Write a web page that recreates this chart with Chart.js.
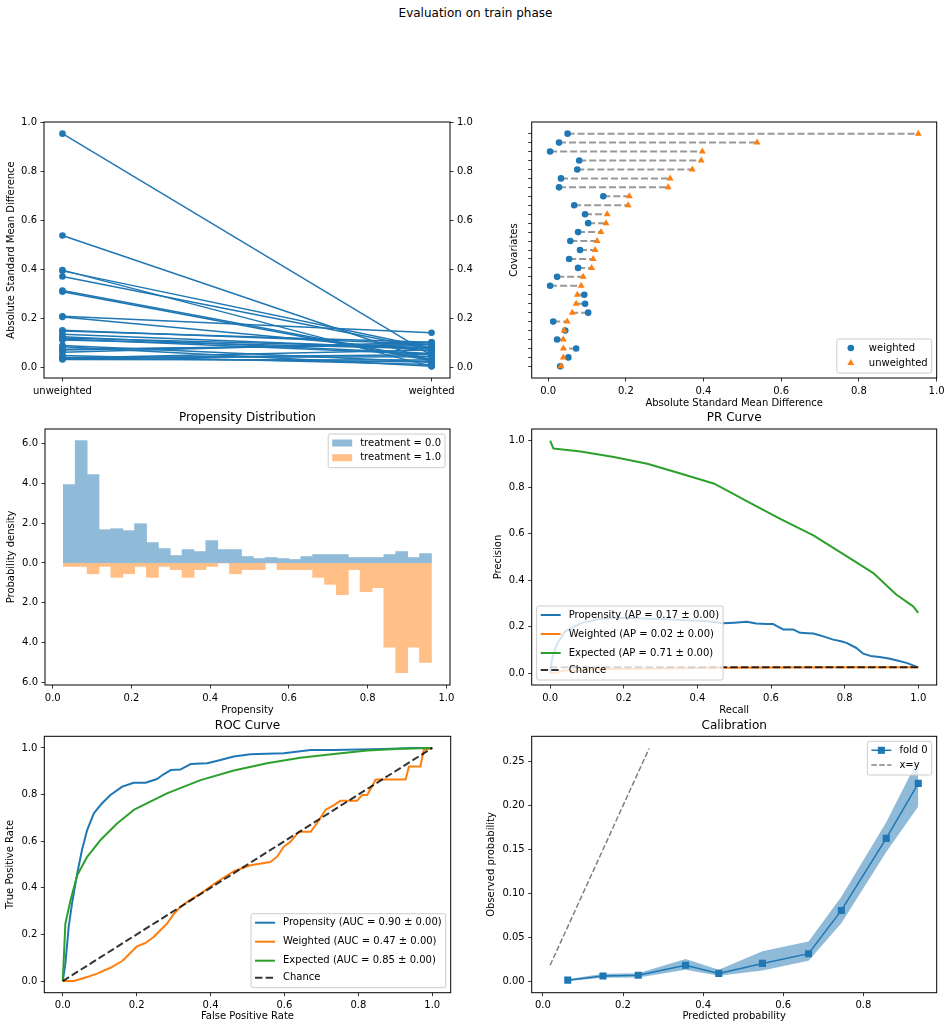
<!DOCTYPE html>
<html>
<head>
<meta charset="utf-8">
<title>Evaluation on train phase</title>
<script src="https://cdn.jsdelivr.net/npm/chart.js@4.4.1/dist/chart.umd.min.js"></script>
<style>
  body { margin: 0; background: #fff; }
  #fig { position: relative; width: 951px; height: 1030px; background: #fff; font-family: "DejaVu Sans", sans-serif; }
  #fig canvas { position: absolute; }
  #suptitle { position: absolute; left: 0; top: 5px; width: 951px; text-align: center; font-size: 12px; line-height: 16px; color: #000; }
</style>
</head>
<body>
<div id="fig">
  <div id="suptitle">Evaluation on train phase</div>
  <canvas id="smdLines" width="480" height="300" style="left:0;top:110px"></canvas>
  <canvas id="smdDots" width="471" height="300" style="left:480px;top:110px"></canvas>
  <canvas id="propHist" width="480" height="320" style="left:0;top:400px"></canvas>
  <canvas id="prCurve" width="471" height="320" style="left:480px;top:400px"></canvas>
  <canvas id="rocCurve" width="480" height="325" style="left:0;top:705px"></canvas>
  <canvas id="calCurve" width="471" height="325" style="left:480px;top:705px"></canvas>
</div>
<script>
// ---- data ----
const smdGroups = ["unweighted", "weighted"];
// covariates, top row first
const covUnweighted = [0.953, 0.538, 0.397, 0.394, 0.371, 0.314, 0.309, 0.209, 0.206, 0.152, 0.149, 0.136, 0.126, 0.121,
  0.116, 0.112, 0.090, 0.085, 0.075, 0.072, 0.062, 0.049, 0.041, 0.039, 0.039, 0.039, 0.033];
const covWeighted = [0.050, 0.028, 0.005, 0.080, 0.075, 0.033, 0.028, 0.142, 0.067, 0.095, 0.103, 0.077, 0.057, 0.082,
  0.054, 0.077, 0.023, 0.005, 0.093, 0.095, 0.103, 0.013, 0.044, 0.023, 0.072, 0.052, 0.031];

const histBinCenters = [0.0422, 0.0723, 0.1025, 0.1326, 0.1628, 0.1929, 0.2231, 0.2532, 0.2834, 0.3135, 0.3437,
  0.3738, 0.4040, 0.4341, 0.4643, 0.4944, 0.5246, 0.5547, 0.5849, 0.6150, 0.6452, 0.6753, 0.7055, 0.7356, 0.7658,
  0.7959, 0.8261, 0.8562, 0.8864, 0.9165, 0.9467];
const histTreat0 = [3.93, 6.14, 4.44, 1.67, 1.72, 1.62, 1.97, 1.02, 0.72, 0.37, 0.67, 0.57, 1.12, 0.67, 0.67, 0.32,
  0.22, 0.27, 0.22, 0.17, 0.32, 0.42, 0.42, 0.42, 0.27, 0.27, 0.27, 0.42, 0.57, 0.27, 0.47];
const histTreat1 = [0.17, 0.17, 0.54, 0.17, 0.72, 0.54, 0.17, 0.72, 0.17, 0.33, 0.72, 0.33, 0.17, 0, 0.54, 0.33,
  0.33, 0, 0.33, 0.33, 0.33, 0.72, 1.07, 1.59, 0.33, 1.44, 1.24, 4.23, 5.51, 4.23, 4.99];

const prPropRecall = [0, 0.005, 0.018, 0.041, 0.086, 0.131, 0.176, 0.221, 0.27, 0.32, 0.37, 0.42, 0.471, 0.50, 0.534,
  0.56, 0.588, 0.606, 0.62, 0.634, 0.661, 0.679, 0.70, 0.715, 0.742, 0.769, 0.79, 0.805, 0.832, 0.85, 0.87, 0.895,
  0.92, 0.94, 0.968, 1.0];
const prPropPrecision = [0, 0.06, 0.124, 0.181, 0.217, 0.232, 0.238, 0.238, 0.235, 0.232, 0.228, 0.225, 0.215, 0.218,
  0.222, 0.214, 0.212, 0.212, 0.200, 0.188, 0.188, 0.174, 0.172, 0.171, 0.159, 0.145, 0.138, 0.131, 0.109, 0.085,
  0.075, 0.070, 0.064, 0.056, 0.045, 0.026];
const prWeightRecall = [0, 0.02, 0.04, 0.08, 0.13, 0.2, 0.31, 0.45, 0.6, 0.8, 1.0];
const prWeightPrecision = [0, 0.005, 0.012, 0.015, 0.018, 0.020, 0.021, 0.024, 0.025, 0.026, 0.026];
const prExpRecall = [0, 0.009, 0.083, 0.173, 0.264, 0.354, 0.444, 0.489, 0.534, 0.625, 0.715, 0.805, 0.877, 0.940, 0.986, 1.0];
const prExpPrecision = [1.0, 0.966, 0.953, 0.930, 0.901, 0.859, 0.816, 0.779, 0.740, 0.664, 0.593, 0.504, 0.432, 0.339, 0.288, 0.260];
const prChanceRecall = [0, 1];
const prChancePrecision = [0.026, 0.026];

const rocPropFpr = [0, 0.007, 0.016, 0.025, 0.039, 0.052, 0.066, 0.084, 0.102, 0.129, 0.161, 0.192, 0.224, 0.255,
  0.273, 0.292, 0.319, 0.346, 0.391, 0.427, 0.463, 0.508, 0.598, 0.671, 0.734, 0.869, 0.950, 1.0];
const rocPropTpr = [0, 0.074, 0.232, 0.332, 0.461, 0.562, 0.648, 0.719, 0.755, 0.798, 0.834, 0.851, 0.851, 0.867,
  0.887, 0.905, 0.908, 0.931, 0.934, 0.948, 0.963, 0.973, 0.977, 0.991, 0.991, 0.996, 1.0, 1.0];
const rocWeightFpr = [0, 0.030, 0.066, 0.093, 0.129, 0.161, 0.183, 0.201, 0.224, 0.246, 0.264, 0.282, 0.301, 0.319,
  0.337, 0.373, 0.418, 0.463, 0.508, 0.562, 0.580, 0.598, 0.616, 0.639, 0.671, 0.689, 0.711, 0.734, 0.752, 0.797,
  0.810, 0.824, 0.847, 0.928, 0.937, 0.968, 0.977, 1.0];
const rocWeightTpr = [0, 0, 0.017, 0.032, 0.057, 0.086, 0.120, 0.149, 0.163, 0.189, 0.218, 0.246, 0.289, 0.318,
  0.340, 0.375, 0.426, 0.471, 0.497, 0.511, 0.533, 0.576, 0.597, 0.640, 0.640, 0.679, 0.734, 0.755, 0.774, 0.774,
  0.798, 0.798, 0.865, 0.865, 0.920, 0.920, 0.991, 1.0];
const rocExpFpr = [0, 0.007, 0.021, 0.039, 0.066, 0.102, 0.147, 0.192, 0.282, 0.373, 0.463, 0.553, 0.643, 0.734, 0.824, 0.914, 1.0];
const rocExpTpr = [0, 0.246, 0.347, 0.454, 0.533, 0.605, 0.676, 0.734, 0.805, 0.862, 0.903, 0.934, 0.958, 0.974, 0.989, 0.997, 1.0];
const rocChance = [0, 1];

const calPred = [0.062, 0.150, 0.238, 0.356, 0.439, 0.548, 0.663, 0.745, 0.857, 0.937];
const calObs = [0.001, 0.0057, 0.0065, 0.0179, 0.0087, 0.0201, 0.0312, 0.0805, 0.1626, 0.2253];
const calLow = [0.000, 0.0038, 0.0040, 0.013, 0.006, 0.012, 0.023, 0.066, 0.147, 0.199];
const calHigh = [0.002, 0.0084, 0.0090, 0.025, 0.013, 0.034, 0.045, 0.096, 0.181, 0.253];
const calDiagonal = [0.018, 0.265];

const ticks01 = [0, 0.2, 0.4, 0.6, 0.8, 1.0];
const ticksCal = [0, 0.2, 0.4, 0.6, 0.8];
const ticksObs = [0, 0.05, 0.10, 0.15, 0.20, 0.25];
const ticksDensity = [-6, -4, -2, 0, 2, 4, 6];

// ---- styling ----
const BLUE = "#1f77b4", ORANGE = "#ff7f0e", GREEN = "#2ca02c";
const BLUE_A = "rgba(31,119,180,0.5)";
// half-transparent blue / orange flattened on white (bars never overlap, so no seams)
const HIST_BLUE = "#8fbbd9", HIST_ORANGE = "#ffbf86";
const CHANCE = "rgba(0,0,0,0.8)";

Chart.defaults.font.family = '"DejaVu Sans", sans-serif';
Chart.defaults.font.size = 10;
Chart.defaults.color = "#000";
Chart.defaults.animation = false;
Chart.defaults.responsive = false;
Chart.defaults.events = [];
Chart.defaults.plugins.legend.display = false;
Chart.defaults.plugins.tooltip.enabled = false;

const pts = (xs, ys) => xs.map((x, i) => ({ x: x, y: ys[i] }));
const fmt1 = v => v.toFixed(1);

function axis(o) {
  const vertical = o.position === "left" || o.position === "right";
  return {
    type: "linear",
    position: o.position,
    min: o.min,
    max: o.max,
    offset: false,
    afterBuildTicks: s => { s.ticks = o.ticks.map(v => ({ value: v })); },
    afterFit: s => { if (vertical) s.width = o.size; else s.height = o.size; },
    grid: { drawOnChartArea: false, drawTicks: true, tickLength: 3.5, color: "#000", lineWidth: 0.8, offset: false },
    border: { display: false },
    ticks: { callback: o.fmt, padding: 3.5, autoSkip: false, maxRotation: 0, minRotation: 0, color: "#000" },
    title: o.label
      ? { display: true, text: o.label, color: "#000", font: { size: 10 }, padding: { top: o.pad, bottom: o.pad } }
      : { display: false }
  };
}

function panelTitle(text, top, bottom) {
  return { display: true, text: text, fullSize: false, color: "#000", font: { size: 12, weight: "normal" }, padding: { top: top, bottom: bottom } };
}

function curve(xs, ys, color, width, dash) {
  return { data: pts(xs, ys), showLine: true, pointRadius: 0, borderColor: color, borderWidth: width,
    borderDash: dash || [], borderJoinStyle: "round", fill: false };
}

const frame = {
  id: "frame",
  afterDatasetsDraw(chart) {
    const { ctx, chartArea: a } = chart;
    ctx.save();
    ctx.strokeStyle = "#000";
    ctx.lineWidth = 1;
    ctx.strokeRect(a.left, a.top, a.right - a.left, a.bottom - a.top);
    ctx.restore();
  }
};

function drawMarker(ctx, m, x, y) {
  ctx.fillStyle = m.color;
  ctx.beginPath();
  if (m.shape === "circle") ctx.arc(x, y, m.r, 0, Math.PI * 2);
  else if (m.shape === "triangle") {
    ctx.moveTo(x, y - m.r);
    ctx.lineTo(x + m.r * 0.866, y + m.r * 0.5);
    ctx.lineTo(x - m.r * 0.866, y + m.r * 0.5);
    ctx.closePath();
  } else ctx.rect(x - m.r * 0.707, y - m.r * 0.707, m.r * 1.414, m.r * 1.414);
  ctx.fill();
}

// matplotlib-like legend box drawn inside the axes
function legendBox(spec) {
  return {
    id: "mplLegend",
    afterDraw(chart) {
      const { ctx, chartArea: a } = chart;
      ctx.save();
      ctx.font = '10px "DejaVu Sans", sans-serif';
      const tw = Math.max(...spec.items.map(it => ctx.measureText(it.label).width));
      const w = 36 + tw;
      const h = 19 + spec.pitch.reduce((s, p) => s + p, 0);
      const x = spec.loc.indexOf("left") >= 0 ? a.left + 5 : a.right - 5 - w;
      const y = spec.loc.indexOf("upper") >= 0 ? a.top + 5 : a.bottom - 5 - h;
      ctx.beginPath();
      ctx.roundRect(x, y, w, h, 2);
      ctx.fillStyle = "rgba(255,255,255,0.8)";
      ctx.fill();
      ctx.strokeStyle = "#cccccc";
      ctx.lineWidth = 1;
      ctx.stroke();
      let ry = y + 9;
      spec.items.forEach((it, i) => {
        if (i > 0) ry += spec.pitch[i - 1];
        const hx = x + 4;
        if (it.patch) { ctx.fillStyle = it.patch; ctx.fillRect(hx, ry - 3.5, 20, 7); }
        if (it.line) {
          ctx.strokeStyle = it.line;
          ctx.lineWidth = it.width || 2;
          ctx.setLineDash(it.dash || []);
          ctx.beginPath();
          ctx.moveTo(hx, ry);
          ctx.lineTo(hx + 20, ry);
          ctx.stroke();
          ctx.setLineDash([]);
        }
        if (it.marker) drawMarker(ctx, it.marker, hx + 10, ry);
        ctx.fillStyle = "#000";
        ctx.textBaseline = "middle";
        ctx.textAlign = "left";
        ctx.fillText(it.label, x + 32, ry);
      });
      ctx.restore();
    }
  };
}

// ---- 1. SMD lines, unweighted -> weighted ----
new Chart(document.getElementById("smdLines"), {
  type: "scatter",
  data: {
    datasets: covUnweighted.map((u, i) => ({
      data: [{ x: 0, y: u }, { x: 1, y: covWeighted[i] }],
      showLine: true, borderColor: BLUE, borderWidth: 1.5,
      pointRadius: 3.3, pointBackgroundColor: BLUE, pointBorderWidth: 0
    }))
  },
  options: {
    layout: { padding: { top: 12 } },
    scales: {
      x: axis({ position: "bottom", min: -0.05, max: 1.05, ticks: [0, 1], fmt: (v, i) => smdGroups[i], size: 32 }),
      y: axis({ position: "left", min: -0.0424, max: 1.0004, ticks: ticks01, fmt: fmt1, size: 44,
        label: "Absolute Standard Mean Difference", pad: 5 }),
      y2: axis({ position: "right", min: -0.0424, max: 1.0004, ticks: ticks01, fmt: fmt1, size: 30 })
    }
  },
  plugins: [frame]
});

// ---- 2. SMD per covariate ----
const covRow = covWeighted.map((_, i) => covWeighted.length - 1 - i);
const covTicks = covWeighted.map((_, i) => i);
new Chart(document.getElementById("smdDots"), {
  type: "scatter",
  data: {
    datasets: [
      { data: pts(covUnweighted, covRow), pointStyle: "triangle", pointRadius: 4, pointBackgroundColor: ORANGE, pointBorderWidth: 0 },
      { data: pts(covWeighted, covRow), pointStyle: "circle", pointRadius: 3.3, pointBackgroundColor: BLUE, pointBorderWidth: 0 }
    ].concat(covWeighted.map((w, i) => ({
      data: [{ x: w, y: covRow[i] }, { x: covUnweighted[i], y: covRow[i] }],
      showLine: true, pointRadius: 0, borderColor: "rgba(128,128,128,0.8)", borderWidth: 2, borderDash: [7, 3]
    })))
  },
  options: {
    layout: { padding: { top: 12, right: 14.3 } },
    scales: {
      x: axis({ position: "bottom", min: -0.0424, max: 1.0004, ticks: ticks01, fmt: fmt1, size: 32,
        label: "Absolute Standard Mean Difference", pad: 1 }),
      y: axis({ position: "left", min: -1.3, max: 27.3, ticks: covTicks, fmt: () => "", size: 51.7, label: "Covariates", pad: 28 })
    }
  },
  plugins: [frame, legendBox({ loc: "lower right", pitch: [15], items: [
    { label: "weighted", marker: { shape: "circle", r: 3.3, color: BLUE } },
    { label: "unweighted", marker: { shape: "triangle", r: 4, color: ORANGE } }
  ] })]
});

// ---- 3. Propensity distribution ----
const histBar = { grouped: false, barPercentage: 1, categoryPercentage: 1, borderWidth: 0, inflateAmount: 0.4 };
new Chart(document.getElementById("propHist"), {
  type: "bar",
  data: {
    datasets: [
      Object.assign({ data: pts(histBinCenters, histTreat0), backgroundColor: HIST_BLUE }, histBar),
      Object.assign({ data: pts(histBinCenters, histTreat1.map(v => -v)), backgroundColor: HIST_ORANGE }, histBar)
    ]
  },
  options: {
    layout: { padding: { right: 30 } },
    plugins: { title: panelTitle("Propensity Distribution", 10.8, 3.8) },
    scales: {
      x: axis({ position: "bottom", min: -0.0196, max: 1.009, ticks: ticks01, fmt: fmt1, size: 35, label: "Propensity", pad: 4 }),
      y: axis({ position: "left", min: -6.13, max: 6.73, ticks: ticksDensity, fmt: v => Math.abs(v).toFixed(1), size: 45,
        label: "Probability density", pad: 5 })
    }
  },
  plugins: [frame, legendBox({ loc: "upper right", pitch: [14.7], items: [
    { label: "treatment = 0.0", patch: HIST_BLUE },
    { label: "treatment = 1.0", patch: HIST_ORANGE }
  ] })]
});

// ---- 4. PR curve ----
new Chart(document.getElementById("prCurve"), {
  type: "scatter",
  data: {
    datasets: [
      curve(prChanceRecall, prChancePrecision, CHANCE, 2, [7.4, 3.2]),
      curve(prExpRecall, prExpPrecision, GREEN, 2),
      curve(prWeightRecall, prWeightPrecision, ORANGE, 2),
      curve(prPropRecall, prPropPrecision, BLUE, 2)
    ]
  },
  options: {
    layout: { padding: { right: 14.3 } },
    plugins: { title: panelTitle("PR Curve", 10.8, 3.8) },
    scales: {
      x: axis({ position: "bottom", min: -0.05, max: 1.05, ticks: ticks01, fmt: fmt1, size: 35, label: "Recall", pad: 4 }),
      y: axis({ position: "left", min: -0.05, max: 1.05, ticks: ticks01, fmt: fmt1, size: 51.7, label: "Precision", pad: 12.3 })
    }
  },
  plugins: [frame, legendBox({ loc: "lower left", pitch: [19, 19, 17], items: [
    { label: "Propensity (AP = 0.17 \u00b1 0.00)", line: BLUE, width: 2 },
    { label: "Weighted (AP = 0.02 \u00b1 0.00)", line: ORANGE, width: 2 },
    { label: "Expected (AP = 0.71 \u00b1 0.00)", line: GREEN, width: 2 },
    { label: "Chance", line: CHANCE, width: 2, dash: [7.4, 3.2] }
  ] })]
});

// ---- 5. ROC curve ----
new Chart(document.getElementById("rocCurve"), {
  type: "scatter",
  data: {
    datasets: [
      curve(rocChance, rocChance, CHANCE, 2, [7.4, 3.2]),
      curve(rocExpFpr, rocExpTpr, GREEN, 2),
      curve(rocWeightFpr, rocWeightTpr, ORANGE, 2),
      curve(rocPropFpr, rocPropTpr, BLUE, 2)
    ]
  },
  options: {
    layout: { padding: { right: 29.3 } },
    plugins: { title: panelTitle("ROC Curve", 13.5, 3.4) },
    scales: {
      x: axis({ position: "bottom", min: -0.05, max: 1.05, ticks: ticks01, fmt: fmt1, size: 37.3, label: "False Positive Rate", pad: 7.3 }),
      y: axis({ position: "left", min: -0.05, max: 1.05, ticks: ticks01, fmt: fmt1, size: 44.3, label: "True Positive Rate", pad: 4.7 })
    }
  },
  plugins: [frame, legendBox({ loc: "lower right", pitch: [19, 19, 17], items: [
    { label: "Propensity (AUC = 0.90 \u00b1 0.00)", line: BLUE, width: 2 },
    { label: "Weighted (AUC = 0.47 \u00b1 0.00)", line: ORANGE, width: 2 },
    { label: "Expected (AUC = 0.85 \u00b1 0.00)", line: GREEN, width: 2 },
    { label: "Chance", line: CHANCE, width: 2, dash: [7.4, 3.2] }
  ] })]
});

// ---- 6. Calibration ----
new Chart(document.getElementById("calCurve"), {
  type: "scatter",
  data: {
    datasets: [
      { data: pts(calPred, calObs), showLine: true, borderColor: BLUE, borderWidth: 1.5,
        pointStyle: "rect", pointRadius: 5, pointBackgroundColor: BLUE, pointBorderWidth: 0 },
      curve(calDiagonal, calDiagonal, "#808080", 1.5, [5.5, 2.4]),
      { data: pts(calPred, calHigh), showLine: true, pointRadius: 0, borderWidth: 0, borderColor: "rgba(0,0,0,0)",
        backgroundColor: BLUE_A, fill: "+1" },
      { data: pts(calPred, calLow), showLine: true, pointRadius: 0, borderWidth: 0, borderColor: "rgba(0,0,0,0)" }
    ]
  },
  options: {
    layout: { padding: { right: 14.3 } },
    plugins: { title: panelTitle("Calibration", 13.5, 3.4) },
    scales: {
      x: axis({ position: "bottom", min: -0.028, max: 0.983, ticks: ticksCal, fmt: fmt1, size: 37.3, label: "Predicted probability", pad: 7.3 }),
      y: axis({ position: "left", min: -0.0133, max: 0.279, ticks: ticksObs, fmt: v => v.toFixed(2), size: 51.7,
        label: "Observed probability", pad: 5.7 })
    }
  },
  plugins: [frame, legendBox({ loc: "upper right", pitch: [14.7], items: [
    { label: "fold 0", line: BLUE, width: 1.5, marker: { shape: "square", r: 5, color: BLUE } },
    { label: "x=y", line: "#808080", width: 1.5, dash: [5.5, 2.4] }
  ] })]
});
</script>
</body>
</html>
